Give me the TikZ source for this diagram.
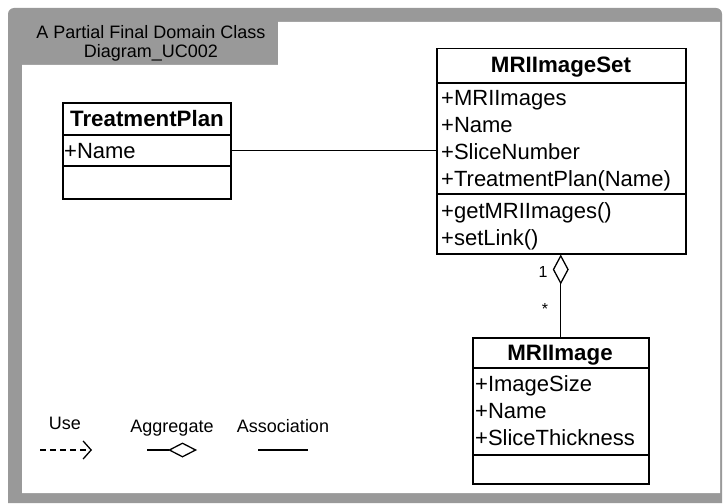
\documentclass[tikz,border=0pt]{standalone}
\usepackage{fontspec}
\setmainfont{Liberation Sans}
\usetikzlibrary{arrows.meta,calc}
\begin{document}
\begin{tikzpicture}[x=1pt,y=-1pt,
  classbox/.style={draw, line width=1.5pt, inner sep=0pt, anchor=north west, fill=white},
  ctitle/.style={font=\bfseries\fontsize{22.3}{25}\selectfont, inner sep=0pt, anchor=base},
  attr/.style={font=\fontsize{22}{25}\selectfont, inner sep=0pt, anchor=base west},
  small/.style={font=\fontsize{16}{19}\selectfont, inner sep=0pt},
  legendtext/.style={font=\fontsize{18}{21}\selectfont, inner sep=0pt, anchor=base},
  frametext/.style={font=\fontsize{18}{21}\selectfont, inner sep=0pt, anchor=base},
  link/.style={line width=1.3pt},
  divider/.style={line width=1.5pt},
  framegray/.style={fill=black!40}
]
\useasboundingbox (0,0) rectangle (725,503);

% frame with title tab
\fill[framegray, rounded corners=6pt] (8,503) -- (8,8) -- (722,8) [sharp corners] -- (722,503) -- cycle;
\fill[white] (22,65) -- (278,65) -- (278,22) -- (720,22) -- (720,493) -- (22,493) -- cycle;
\node[frametext] (title1) at (151,38) {A Partial Final Domain Class};
\node[frametext] (title2) at (151,58) {Diagram\_UC002};

% class TreatmentPlan
\node[classbox, minimum width=168pt, minimum height=96pt] (tp) at (62,102) {};
\draw[divider] (62,135) -- (230,135) (62,166) -- (230,166);
\node[ctitle] (tpname) at (147,126.5) {TreatmentPlan};
\node[attr] (tpa1) at (64,158) {+Name};

% class MRIImageSet
\node[classbox, minimum width=249pt, minimum height=205pt] (set) at (436,48) {};
\draw[divider] (436,83) -- (685,83) (436,194) -- (685,194);
\node[ctitle] (setname) at (561,73) {MRIImageSet};
\node[attr] (seta1) at (441,105) {+MRIImages};
\node[attr] (seta2) at (441,132) {+Name};
\node[attr] (seta3) at (441,159) {+SliceNumber};
\node[attr] (seta4) at (441,186) {+TreatmentPlan(Name)};
\node[attr] (setm1) at (441,218) {+getMRIImages()};
\node[attr] (setm2) at (441,245) {+setLink()};

% class MRIImage
\node[classbox, minimum width=176pt, minimum height=146pt] (img) at (472,337) {};
\draw[divider] (472,368) -- (648,368) (472,455) -- (648,455);
\node[ctitle] (imgname) at (560,360) {MRIImage};
\node[attr] (imga1) at (475,391.5) {+ImageSize};
\node[attr] (imga2) at (475,418.5) {+Name};
\node[attr] (imga3) at (475,445.5) {+SliceThickness};

% association and aggregation
\draw[link] (tp.east) -- (tp.east -| set.west);
\draw[link, -{Diamond[open, fill=white, length=30pt, width=16pt, line width=1.3pt]}] (img.north) -- (img.north |- set.south);
\node[small] (one) at (543,272) {1};
\node[small] (many) at (545,309) {*};

% legend
\node[legendtext] (luse) at (65,429) {Use};
\coordinate (use1) at (40,450);
\coordinate (use2) at (92,450);
\draw[link, dash pattern=on 6pt off 4pt, -{Straight Barb[length=8pt, width=18pt, line width=1.3pt]}] (use1) -- (use2);

\node[legendtext] (lagg) at (172,432) {Aggregate};
\coordinate (agg1) at (147,450);
\coordinate (agg2) at (197,450);
\draw[link, -{Diamond[open, fill=white, length=29pt, width=15pt, line width=1.3pt]}] (agg1) -- (agg2);

\node[legendtext] (lass) at (283,432) {Association};
\coordinate (ass1) at (258,450);
\coordinate (ass2) at (308,450);
\draw[link] (ass1) -- (ass2);
\end{tikzpicture}
\end{document}
